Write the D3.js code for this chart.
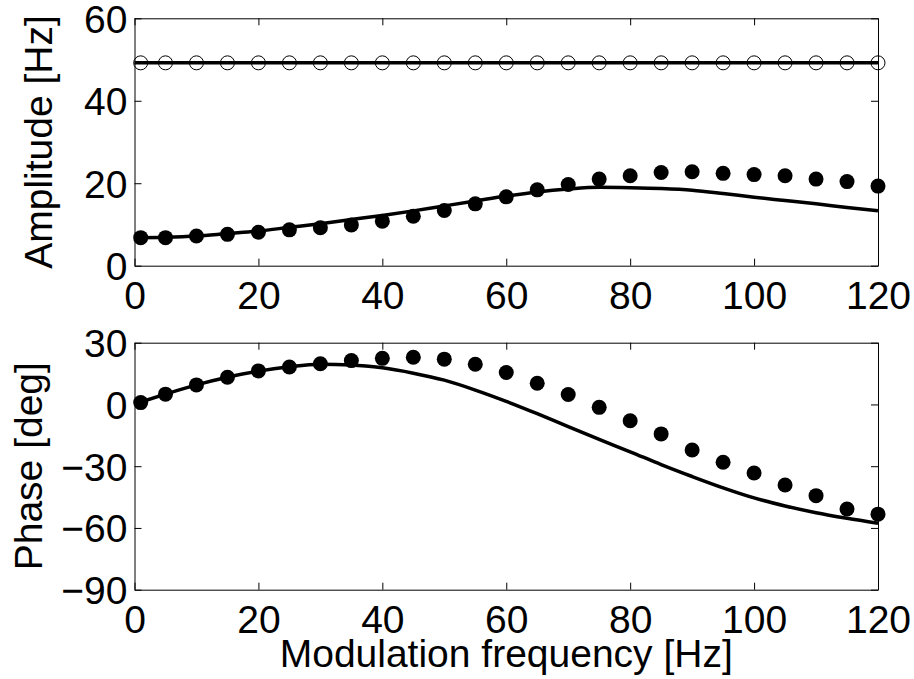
<!DOCTYPE html>
<html>
<head>
<meta charset="utf-8">
<script src="https://cdn.jsdelivr.net/npm/d3@7"></script>
<style>
  body { margin: 0; background: #fff; }
  svg { display: block; }
  text { font-family: "Liberation Sans", Arial, sans-serif; fill: #000; }
</style>
</head>
<body>
<svg id="chart" width="914" height="679"></svg>
<script>
// measured frequencies (Hz)
var freq = [1, 5, 10, 15, 20, 25, 30, 35, 40, 45, 50, 55, 60, 65, 70, 75, 80, 85, 90, 95, 100, 105, 110, 115, 120];
// open circles (carrier amplitude)
var ampOpen = [49.2, 49.2, 49.2, 49.2, 49.2, 49.2, 49.2, 49.2, 49.2, 49.2, 49.2, 49.2, 49.2, 49.2, 49.2, 49.2, 49.2, 49.2, 49.2, 49.2, 49.2, 49.2, 49.2, 49.2, 49.2];
// filled circles
var ampFilled = [6.8, 6.8, 7.2, 7.6, 8.1, 8.7, 9.2, 9.9, 10.8, 12.0, 13.4, 15.0, 16.7, 18.4, 19.7, 21.0, 21.8, 22.6, 22.8, 22.4, 22.1, 21.8, 21.0, 20.4, 19.3];
var phaseFilled = [0.9, 5.0, 9.5, 13.2, 16.3, 18.2, 19.8, 21.3, 22.4, 22.9, 22.0, 19.5, 15.5, 10.3, 4.8, -1.4, -7.9, -14.3, -22.1, -28.1, -33.3, -39.1, -44.3, -50.8, -53.3];

// model curves
var modelFreq = [0, 5, 10, 15, 20, 25, 30, 35, 40, 45, 50, 55, 60, 65, 70, 75, 80, 85, 90, 95, 100, 105, 110, 115, 120];
var ampFlat = [49.2, 49.2, 49.2, 49.2, 49.2, 49.2, 49.2, 49.2, 49.2, 49.2, 49.2, 49.2, 49.2, 49.2, 49.2, 49.2, 49.2, 49.2, 49.2, 49.2, 49.2, 49.2, 49.2, 49.2, 49.2];
var ampModel = [6.8, 6.9, 7.2, 7.8, 8.4, 9.3, 10.2, 11.2, 12.2, 13.3, 14.5, 15.7, 16.9, 17.9, 18.6, 19.0, 18.9, 18.7, 18.3, 17.5, 16.6, 15.8, 15.0, 14.1, 13.3];
var phaseModel = [0.2, 5.0, 9.5, 13.2, 16.2, 18.3, 19.5, 19.2, 17.8, 15.2, 11.8, 7.0, 1.5, -4.5, -10.8, -17.0, -23.0, -29.2, -35.0, -40.5, -45.4, -49.3, -52.6, -55.3, -57.7];

var xTicks = [0, 20, 40, 60, 80, 100, 120];
var ampTicks = [0, 20, 40, 60];
var phaseTicks = [-90, -60, -30, 0, 30];

var svg = d3.select('#chart');
svg.append('rect').attr('width', 914).attr('height', 679).attr('fill', '#fff');

var fontSize = 39;
var left = 134.5, right = 878;

var x = d3.scaleLinear().domain([0, 120]).range([left, right]);

function fmt(d) { return d < 0 ? '\u2212' + Math.abs(d) : String(d); }

function drawPanel(top, bottom, domain, ticks) {
    var y = d3.scaleLinear().domain(domain).range([bottom, top]);
    var g = svg.append('g');

    // mirrored axes make the box
    g.append('g').attr('transform', 'translate(0,' + top + ')')
        .call(d3.axisTop(x).tickValues(xTicks).tickSizeInner(-7).tickSizeOuter(0).tickFormat(''));
    g.append('g').attr('transform', 'translate(' + right + ',0)')
        .call(d3.axisRight(y).tickValues(ticks).tickSizeInner(-7).tickSizeOuter(0).tickFormat(''));

    g.append('g').attr('transform', 'translate(0,' + bottom + ')')
        .call(d3.axisBottom(x).tickValues(xTicks).tickSizeInner(-7).tickSizeOuter(0).tickPadding(15.5));
    var ya = g.append('g').attr('transform', 'translate(' + left + ',0)')
        .call(d3.axisLeft(y).tickValues(ticks).tickSizeInner(-7).tickSizeOuter(0).tickPadding(7).tickFormat(fmt));

    g.selectAll('.domain').attr('stroke', '#000').attr('stroke-width', 1);
    g.selectAll('.tick line').attr('stroke', '#000').attr('stroke-width', 1);
    g.selectAll('.tick text')
        .attr('font-family', '"Liberation Sans", Arial, sans-serif')
        .attr('font-size', fontSize)
        .attr('fill', '#000');
    ya.selectAll('.tick text').attr('dy', '0.36em');

    return y;
}

var yAmp = drawPanel(18.3, 265.7, [0, 60], ampTicks);
var yPh = drawPanel(342.7, 589.7, [-90, 30], phaseTicks);

var line = function(ys) {
    return d3.line()
        .x(function(d, i) { return x(modelFreq[i]); })
        .y(function(d) { return ys(d); })
        .curve(d3.curveMonotoneX);
};

// amplitude panel
svg.append('g').selectAll('circle.open')
    .data(ampOpen).enter()
    .append('circle')
    .attr('class', 'open')
    .attr('cx', function(d, i) { return x(freq[i]); })
    .attr('cy', function(d) { return yAmp(d); })
    .attr('r', 7)
    .attr('fill', 'none')
    .attr('stroke', '#000')
    .attr('stroke-width', 1);

svg.append('path').datum(ampFlat)
    .attr('d', line(yAmp))
    .attr('fill', 'none').attr('stroke', '#000').attr('stroke-width', 3.5);

svg.append('path').datum(ampModel)
    .attr('d', line(yAmp))
    .attr('fill', 'none').attr('stroke', '#000').attr('stroke-width', 3.5);

svg.append('g').selectAll('circle')
    .data(ampFilled).enter()
    .append('circle')
    .attr('cx', function(d, i) { return x(freq[i]); })
    .attr('cy', function(d) { return yAmp(d); })
    .attr('r', 7.5)
    .attr('fill', '#000');

// phase panel
svg.append('path').datum(phaseModel)
    .attr('d', line(yPh))
    .attr('fill', 'none').attr('stroke', '#000').attr('stroke-width', 3.5);

svg.append('g').selectAll('circle')
    .data(phaseFilled).enter()
    .append('circle')
    .attr('cx', function(d, i) { return x(freq[i]); })
    .attr('cy', function(d) { return yPh(d); })
    .attr('r', 7.5)
    .attr('fill', '#000');

// axis titles
svg.append('text')
    .attr('transform', 'translate(51.7,' + (18.3 + 265.7) / 2 + ') rotate(-90)')
    .attr('text-anchor', 'middle')
    .attr('font-size', fontSize)
    .text('Amplitude [Hz]');

svg.append('text')
    .attr('transform', 'translate(41.7,' + (342.7 + 589.7) / 2 + ') rotate(-90)')
    .attr('text-anchor', 'middle')
    .attr('font-size', fontSize)
    .text('Phase [deg]');

svg.append('text')
    .attr('x', (left + right) / 2)
    .attr('y', 667)
    .attr('text-anchor', 'middle')
    .attr('font-size', fontSize)
    .text('Modulation frequency [Hz]');
</script>
</body>
</html>
